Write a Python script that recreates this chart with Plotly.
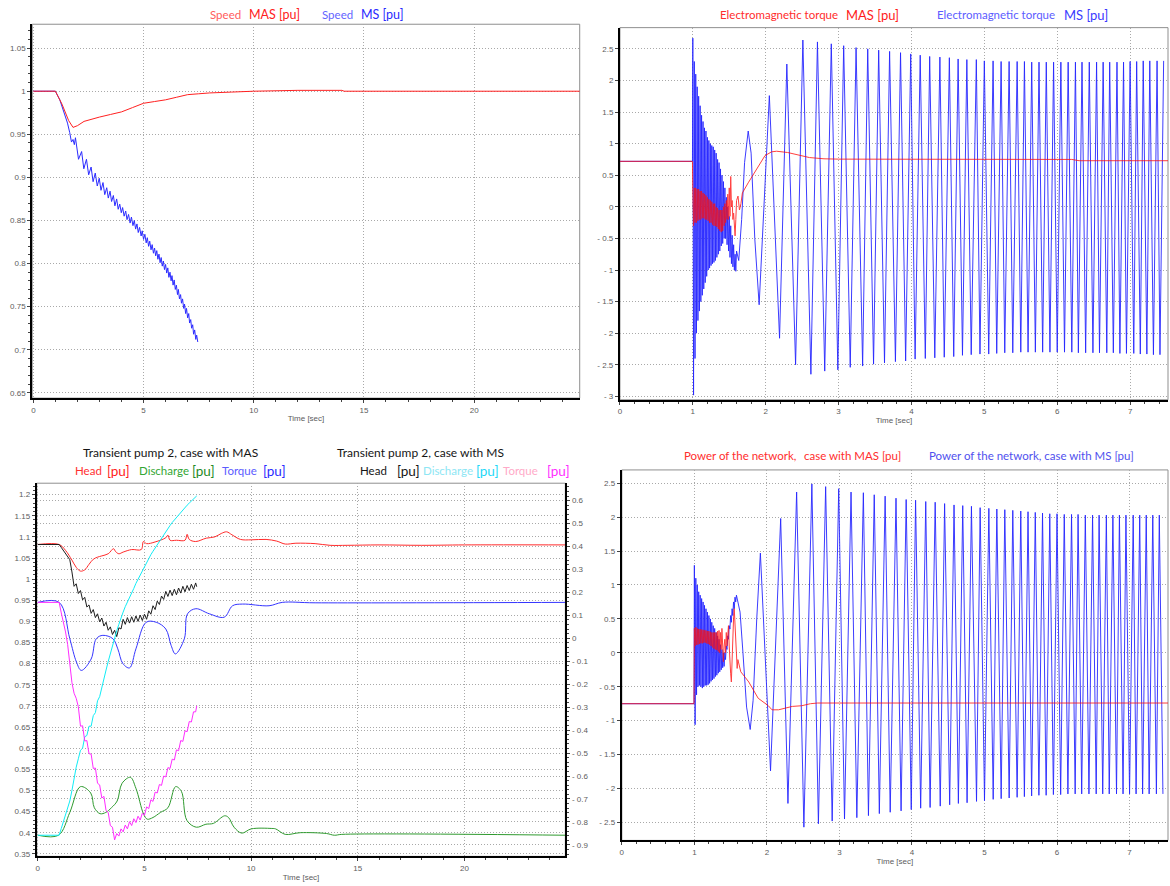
import plotly.graph_objects as go

# ------------------------------------------------------------------ DATA
# ---- top-left: speed [pu] vs time [s]
spd_mas_t = [0, 1.0, 1.3, 1.6, 1.8, 2.0, 2.3, 2.7, 3.0, 3.5, 4.0, 4.5, 5.0, 5.5, 6.0, 6.5, 7.0, 7.5, 8.0, 9.0, 10.0, 12.0, 14.0, 14.1, 24.8]
spd_mas_v = [1.0, 1.0, 0.985, 0.966, 0.958, 0.96, 0.965, 0.968, 0.970, 0.973, 0.976, 0.981, 0.986, 0.988, 0.990, 0.993, 0.996, 0.997, 0.998, 0.999, 1.0, 1.001, 1.001, 1.0, 1.0]
spd_ms_early_t = [0, 1.0, 1.2, 1.4, 1.55, 1.65, 1.73, 1.8, 1.86]
spd_ms_early_v = [1.0, 1.0, 0.99, 0.976, 0.963, 0.952, 0.941, 0.944, 0.938]

# common instants of the slip-frequency oscillation extremes (MS case)
osc_t = [1.91, 2.05, 2.19, 2.29, 2.41, 2.51, 2.62, 2.71, 2.81, 2.90,
         2.99, 3.07, 3.16, 3.24, 3.33, 3.40, 3.48, 3.55, 3.63, 3.70,
         3.78, 3.85, 3.92, 3.99, 4.05, 4.12, 4.19, 4.25, 4.32, 4.39,
         4.45, 4.52, 4.58, 4.64, 4.70, 4.76, 4.82, 4.89, 4.94, 5.00,
         5.06, 5.12, 5.17, 5.23, 5.28, 5.34, 5.39, 5.45, 5.50, 5.55,
         5.60, 5.65, 5.70, 5.75, 5.80, 5.85, 5.90, 5.95, 6.00, 6.05,
         6.10, 6.15, 6.20, 6.25, 6.29, 6.34, 6.39, 6.44, 6.49, 6.54,
         6.58, 6.63, 6.68, 6.72, 6.77, 6.82, 6.86, 6.91, 6.95, 7.00,
         7.05, 7.09, 7.14, 7.18, 7.23, 7.27, 7.32, 7.37, 7.41, 7.46]
spd_ms_osc_v = [0.946, 0.921, 0.930, 0.910, 0.921, 0.903, 0.912, 0.895, 0.905, 0.890,
                0.899, 0.885, 0.894, 0.880, 0.888, 0.876, 0.884, 0.872, 0.879, 0.867,
                0.875, 0.863, 0.869, 0.859, 0.865, 0.855, 0.861, 0.851, 0.857, 0.847,
                0.854, 0.844, 0.850, 0.840, 0.846, 0.836, 0.842, 0.832, 0.838, 0.828,
                0.834, 0.824, 0.830, 0.820, 0.826, 0.816, 0.822, 0.812, 0.818, 0.809,
                0.815, 0.805, 0.811, 0.801, 0.807, 0.797, 0.803, 0.793, 0.799, 0.789,
                0.795, 0.784, 0.790, 0.780, 0.786, 0.775, 0.781, 0.770, 0.775, 0.764,
                0.770, 0.759, 0.764, 0.754, 0.759, 0.748, 0.753, 0.742, 0.748, 0.737,
                0.742, 0.731, 0.735, 0.725, 0.729, 0.718, 0.723, 0.712, 0.717, 0.709]

# ---- short-circuit burst instants (s)
burst_t = [1.00, 1.01, 1.02, 1.03, 1.04, 1.05, 1.06, 1.07, 1.08, 1.09,
           1.10, 1.11, 1.12, 1.13, 1.14, 1.15, 1.16, 1.17, 1.18, 1.19,
           1.20, 1.21, 1.22, 1.23, 1.24, 1.25, 1.26, 1.27, 1.28, 1.29,
           1.30, 1.31, 1.32, 1.33, 1.34, 1.35, 1.36, 1.37, 1.38, 1.39,
           1.40, 1.41, 1.42, 1.43, 1.44, 1.45, 1.46, 1.47, 1.48, 1.49,
           1.50, 1.51, 1.52, 1.53, 1.54, 1.55, 1.56, 1.57, 1.58, 1.59, 1.60]
pre_t = [0.0, 0.995]

# ---- top-right: electromagnetic torque [pu]
tq_ms_pre_v = [0.72, 0.72]
tq_ms_burst_v = [2.67, -2.98, 2.30, -2.40, 2.10, -2.00, 1.90, -1.80, 1.75, -1.65,
                 1.60, -1.50, 1.45, -1.40, 1.35, -1.30, 1.25, -1.20, 1.20, -1.10,
                 1.10, -1.00, 1.05, -0.97, 1.00, -0.93, 0.97, -0.90, 0.95, -0.88,
                 0.90, -0.85, 0.85, -0.80, 0.75, -0.75, 0.70, -0.70, 0.60, -0.62,
                 0.50, -0.58, 0.40, -0.50, 0.30, -0.50, 0.15, -0.60, 0.00, -0.70,
                 -0.15, -0.80, -0.30, -0.90, -0.45, -0.95, -0.60, -1.00, -0.75, -1.02, -0.70]
tq_ms_mid_t = [1.63, 1.67, 1.71, 1.76, 1.80, 1.85]
tq_ms_mid_v = [-0.85, -0.20, 0.70, 1.20, 0.85, -0.50]
tq_ms_osc_v = [-1.55, 1.76, -2.08, 2.26, -2.50, 2.64, -2.65, 2.61, -2.60, 2.58,
               -2.58, 2.55, -2.54, 2.52, -2.52, 2.50, -2.49, 2.48, -2.47, 2.46,
               -2.45, 2.44, -2.44, 2.42, -2.41, 2.40, -2.40, 2.38, -2.39, 2.37,
               -2.38, 2.36, -2.37, 2.34, -2.35, 2.33, -2.34, 2.33, -2.33, 2.31,
               -2.33, 2.31, -2.32, 2.30, -2.31, 2.30, -2.31, 2.30, -2.30, 2.30,
               -2.30, 2.29, -2.30, 2.29, -2.30, 2.29, -2.30, 2.29, -2.30, 2.29,
               -2.30, 2.29, -2.30, 2.29, -2.31, 2.29, -2.31, 2.29, -2.31, 2.29,
               -2.31, 2.29, -2.31, 2.29, -2.31, 2.29, -2.32, 2.29, -2.32, 2.30,
               -2.32, 2.30, -2.33, 2.31, -2.33, 2.31, -2.34, 2.31, -2.34, 2.31]
tq_mas_pre_v = [0.72, 0.72]
tq_mas_burst_v = [0.25, -0.30, 0.30, -0.25, 0.30, -0.25, 0.28, -0.22, 0.28, -0.20,
                  0.25, -0.20, 0.25, -0.18, 0.22, -0.18, 0.20, -0.20, 0.18, -0.20,
                  0.15, -0.22, 0.12, -0.25, 0.10, -0.25, 0.08, -0.28, 0.05, -0.30,
                  0.05, -0.30, 0.00, -0.32, -0.02, -0.35, -0.05, -0.38, -0.05, -0.40,
                  -0.05, -0.38, 0.00, -0.30, 0.05, -0.25, 0.10, -0.20, 0.20, -0.20,
                  0.30, -0.15, 0.48, 0.00, 0.10, -0.20, -0.10, -0.40, -0.46, -0.20, 0.10]
tq_mas_tail_t = [1.62, 1.64, 1.66, 1.68, 1.76, 1.87, 1.99, 2.08, 2.15, 2.30, 2.50, 2.60, 2.80, 3.00, 6.20, 6.30, 7.52]
tq_mas_tail_v = [0.17, -0.05, 0.05, 0.22, 0.38, 0.59, 0.81, 0.87, 0.88, 0.86, 0.81, 0.78, 0.76, 0.755, 0.75, 0.73, 0.73]

# ---- bottom-right: network power [pu]
pw_ms_pre_v = [-0.75, -0.75]
pw_ms_burst_v = [1.29, -1.06, 1.10, -0.62, 1.00, -0.50, 0.90, -0.48, 0.85, -0.50,
                 0.80, -0.52, 0.75, -0.50, 0.70, -0.48, 0.65, -0.48, 0.60, -0.47,
                 0.55, -0.45, 0.50, -0.42, 0.45, -0.40, 0.40, -0.38, 0.36, -0.35,
                 0.30, -0.33, 0.25, -0.30, 0.20, -0.28, 0.12, -0.25, 0.05, -0.22,
                 0.00, -0.20, 0.00, -0.10, 0.10, 0.05, 0.25, 0.20, 0.40, 0.35,
                 0.55, 0.45, 0.65, 0.55, 0.75, 0.65, 0.82, 0.75, 0.85, 0.80, 0.80]
pw_ms_mid_t = [1.63, 1.67, 1.72, 1.77, 1.81, 1.86, 1.89]
pw_ms_mid_v = [0.60, 0.00, -0.80, -1.13, -0.70, 0.50, 1.20]
pw_ms_osc_v = [1.47, -1.74, 1.98, -2.22, 2.37, -2.57, 2.49, -2.52, 2.45, -2.48,
               2.42, -2.45, 2.37, -2.43, 2.36, -2.40, 2.33, -2.37, 2.31, -2.35,
               2.28, -2.33, 2.26, -2.31, 2.25, -2.29, 2.23, -2.28, 2.22, -2.26,
               2.20, -2.24, 2.18, -2.22, 2.17, -2.21, 2.16, -2.19, 2.14, -2.18,
               2.13, -2.16, 2.12, -2.15, 2.11, -2.14, 2.10, -2.13, 2.09, -2.12,
               2.08, -2.11, 2.07, -2.10, 2.06, -2.10, 2.05, -2.09, 2.05, -2.09,
               2.04, -2.08, 2.04, -2.08, 2.04, -2.08, 2.03, -2.08, 2.03, -2.08,
               2.03, -2.08, 2.03, -2.08, 2.03, -2.08, 2.03, -2.08, 2.03, -2.08,
               2.03, -2.08, 2.03, -2.08, 2.03, -2.08, 2.03, -2.08, 2.03, -2.08]
pw_mas_pre_v = [-0.75, -0.75]
pw_mas_burst_v = [0.36, 0.10, 0.38, 0.12, 0.36, 0.12, 0.35, 0.13, 0.35, 0.14,
                  0.34, 0.14, 0.34, 0.15, 0.33, 0.15, 0.33, 0.14, 0.32, 0.13,
                  0.32, 0.12, 0.31, 0.10, 0.30, 0.08, 0.30, 0.06, 0.30, 0.05,
                  0.30, 0.04, 0.32, 0.02, 0.33, 0.00, 0.30, 0.05, 0.36, -0.05,
                  -0.13, 0.10, 0.20, 0.00, 0.30, 0.10, 0.35, 0.40, 0.10, -0.20,
                  -0.30, -0.43, 0.00, 0.30, 0.50, 0.65, 0.40, 0.10, -0.10, -0.23, -0.10]
pw_mas_tail_t = [1.62, 1.64, 1.70, 1.75, 1.88, 2.02, 2.07, 2.16, 2.35, 2.48, 2.60, 2.70, 3.00, 7.53]
pw_mas_tail_v = [-0.20, -0.28, -0.36, -0.43, -0.67, -0.78, -0.84, -0.84, -0.79, -0.78, -0.75, -0.74, -0.74, -0.74]

# ---- bottom-left: transient of pump 2 (left-axis units)
head_mas_t = [0, 1.0, 1.3, 1.6, 1.8, 2.0, 2.2, 2.4, 2.6, 2.8, 3.0, 3.3, 3.55, 3.65, 3.8, 4.0, 4.4, 4.85, 4.95, 5.1,
              5.5, 6.0, 6.1, 6.2, 6.5, 6.9, 7.0, 7.1, 7.4, 7.9, 8.3, 8.6, 8.85, 9.1, 9.5, 10.0, 10.7, 11.2, 11.6, 12.1,
              13.0, 13.7, 14.5, 16.0, 18.0, 20.0, 24.8]
head_mas_v = [1.082, 1.082, 1.068, 1.045, 1.028, 1.019, 1.022, 1.035, 1.047, 1.052, 1.055, 1.060, 1.072, 1.065, 1.060,
              1.064, 1.070, 1.070, 1.089, 1.084, 1.088, 1.098, 1.104, 1.092, 1.092, 1.092, 1.106, 1.094, 1.089, 1.097,
              1.100, 1.108, 1.112, 1.105, 1.094, 1.093, 1.094, 1.090, 1.083, 1.085, 1.084, 1.080, 1.080, 1.081, 1.080,
              1.081, 1.081]
dis_mas_t = [0, 0.97, 1.5, 2.0, 2.48, 2.65, 2.92, 3.19, 3.45, 3.72, 3.95, 4.34, 4.6, 4.96, 5.13, 5.4, 5.75, 6.1, 6.46,
             6.73, 6.99, 7.43, 7.88, 8.23, 8.76, 8.94, 9.2, 9.56, 10.0, 10.97, 11.15, 11.6, 12.3, 13.54, 13.9, 14.25, 24.8]
dis_mas_v = [0.394, 0.394, 0.448, 0.509, 0.494, 0.459, 0.445, 0.448, 0.459, 0.475, 0.517, 0.531, 0.505, 0.444, 0.432,
             0.436, 0.448, 0.459, 0.509, 0.498, 0.429, 0.413, 0.420, 0.422, 0.440, 0.436, 0.413, 0.399, 0.409, 0.410,
             0.409, 0.396, 0.400, 0.398, 0.394, 0.396, 0.394]
tqp_mas_t = [0, 1.0, 1.5, 1.81, 2.04, 2.5, 2.74, 3.05, 3.52, 3.75, 3.99, 4.3, 4.6, 5.08, 5.55, 6.0, 6.25, 6.45, 6.87,
             7.02, 7.41, 8.04, 8.74, 9.13, 9.6, 10.84, 11.46, 13.0, 24.8]
tqp_mas_v = [0.945, 0.945, 0.859, 0.804, 0.784, 0.811, 0.859, 0.867, 0.859, 0.835, 0.800, 0.790, 0.835, 0.898, 0.898,
             0.882, 0.843, 0.823, 0.859, 0.918, 0.930, 0.918, 0.910, 0.937, 0.941, 0.937, 0.945, 0.944, 0.945]

ms_t = [0, 1.0, 1.1, 1.2, 1.3, 1.4, 1.5, 1.6, 1.7, 1.8, 1.9, 2.0, 2.1, 2.2, 2.3, 2.4, 2.5, 2.6, 2.7, 2.8, 2.9,
        3.0, 3.1, 3.2, 3.3, 3.4, 3.5, 3.6, 3.7, 3.8, 3.9, 4.0, 4.1, 4.2, 4.3, 4.4, 4.5, 4.6, 4.7, 4.8, 4.9,
        5.0, 5.1, 5.2, 5.3, 5.4, 5.5, 5.6, 5.7, 5.8, 5.9, 6.0, 6.1, 6.2, 6.3, 6.4, 6.5, 6.6, 6.7, 6.8, 6.9,
        7.0, 7.1, 7.2, 7.3, 7.4, 7.45]
head_ms_v = [1.082, 1.082, 1.075, 1.068, 1.060, 1.054, 1.046, 1.017, 0.983, 0.989, 0.966, 0.973, 0.951, 0.957, 0.934,
             0.939, 0.919, 0.928, 0.909, 0.918, 0.899, 0.908, 0.889, 0.898, 0.879, 0.887, 0.869, 0.879, 0.864, 0.885,
             0.882, 0.905, 0.893, 0.909, 0.896, 0.911, 0.898, 0.913, 0.900, 0.915, 0.902, 0.917, 0.905, 0.925, 0.917,
             0.937, 0.928, 0.948, 0.940, 0.960, 0.952, 0.971, 0.959, 0.974, 0.961, 0.976, 0.963, 0.979, 0.967, 0.983,
             0.970, 0.985, 0.973, 0.988, 0.976, 0.991, 0.982]
dis_ms_v = [0.394, 0.394, 0.410, 0.425, 0.440, 0.455, 0.475, 0.500, 0.530, 0.555, 0.575, 0.595, 0.600, 0.627, 0.630,
            0.652, 0.652, 0.677, 0.684, 0.712, 0.722, 0.745, 0.765, 0.785, 0.805, 0.825, 0.845, 0.862, 0.878, 0.893,
            0.910, 0.922, 0.935, 0.945, 0.955, 0.967, 0.978, 0.990, 1.000, 1.010, 1.020, 1.030, 1.040, 1.050, 1.058,
            1.066, 1.074, 1.082, 1.090, 1.098, 1.106, 1.113, 1.120, 1.127, 1.134, 1.140, 1.147, 1.153, 1.159, 1.165,
            1.170, 1.175, 1.180, 1.185, 1.190, 1.194, 1.197]
tqp_ms_v = [0.945, 0.945, 0.920, 0.900, 0.875, 0.845, 0.805, 0.755, 0.730, 0.718, 0.698, 0.652, 0.653, 0.617, 0.618,
            0.587, 0.586, 0.552, 0.553, 0.517, 0.513, 0.482, 0.486, 0.452, 0.448, 0.417, 0.413, 0.383, 0.398, 0.392,
            0.409, 0.402, 0.418, 0.409, 0.426, 0.417, 0.433, 0.424, 0.439, 0.430, 0.446, 0.441, 0.461, 0.457, 0.478,
            0.474, 0.496, 0.494, 0.514, 0.512, 0.534, 0.532, 0.554, 0.552, 0.574, 0.572, 0.596, 0.594, 0.618, 0.616,
            0.641, 0.639, 0.663, 0.662, 0.686, 0.686, 0.700]

# ---- tick labels
tl_y_vals = [1.05, 1.0, 0.95, 0.9, 0.85, 0.8, 0.75, 0.7, 0.65]
tl_y_text = ["1.05", "1", "0.95", "0.9", "0.85", "0.8", "0.75", "0.7", "0.65"]
long_x_vals = [0, 5, 10, 15, 20]
long_x_text = ["0", "5", "10", "15", "20"]
short_x_vals = [0, 1, 2, 3, 4, 5, 6, 7]
short_x_text = ["0", "1", "2", "3", "4", "5", "6", "7"]
tr_y_vals = [2.5, 2, 1.5, 1, 0.5, 0, -0.5, -1, -1.5, -2, -2.5, -3]
tr_y_text = ["2.5", "2", "1.5", "1", "0.5", "0", "- 0.5", "- 1", "- 1.5", "- 2", "- 2.5", "- 3"]
br_y_vals = [2.5, 2, 1.5, 1, 0.5, 0, -0.5, -1, -1.5, -2, -2.5]
br_y_text = ["2.5", "2", "1.5", "1", "0.5", "0", "- 0.5", "- 1", "- 1.5", "- 2", "- 2.5"]
bl_y_vals = [1.2, 1.15, 1.1, 1.05, 1.0, 0.95, 0.9, 0.85, 0.8, 0.75, 0.7, 0.65, 0.6, 0.55, 0.5, 0.45, 0.4, 0.35]
bl_y_text = ["1.2", "1.15", "1.1", "1.05", "1", "0.95", "0.9", "0.85", "0.8", "0.75", "0.7", "0.65", "0.6",
             "0.55", "0.5", "0.45", "0.4", "0.35"]
bl_y2_vals = [0.6, 0.5, 0.4, 0.3, 0.2, 0.1, 0, -0.1, -0.2, -0.3, -0.4, -0.5, -0.6, -0.7, -0.8, -0.9]
bl_y2_text = ["0.6", "0.5", "0.4", "0.3", "0.2", "0.1", "0", "- 0.1", "- 0.2", "- 0.3", "- 0.4", "- 0.5",
              "- 0.6", "- 0.7", "- 0.8", "- 0.9"]

# ------------------------------------------------------------------ LAYOUT HELPERS
W, H = 1170, 886


def xd(a, b):
    return [a / W, b / W]


def yd(top, bottom):
    return [1 - bottom / H, 1 - top / H]


TICKFONT = dict(family="Liberation Sans, Arial, sans-serif", size=8, color="#5c5c5c")
TITLEFONT = "Lato, 'Open Sans', sans-serif"
GRIDSTYLE = dict(showgrid=True, gridcolor="#a9a9a9", griddash="1px,2px", gridwidth=1)


def x_axis(domain, rng, tv, tt, mdt, anchor):
    return dict(domain=domain, range=rng, anchor=anchor, tickmode="array", tickvals=tv, ticktext=tt,
                ticks="outside", ticklen=3, tickcolor="#444", tickfont=TICKFONT,
                showline=True, linecolor="#000", linewidth=2, zeroline=False, **GRIDSTYLE,
                minor=dict(tickmode="linear", tick0=0, dtick=mdt, ticks="outside", ticklen=2,
                           tickcolor="#444", showgrid=False),
                title=dict(text="Time [sec]", font=TICKFONT, standoff=2))


def y_axis(domain, rng, tv, tt, anchor, mdt=None, side="left", overlaying=None):
    d = dict(domain=domain, range=rng, anchor=anchor, side=side, tickmode="array", tickvals=tv, ticktext=tt,
             ticks="outside", ticklen=3, tickcolor="#444", tickfont=TICKFONT,
             showline=True, linecolor="#000", linewidth=2, zeroline=False, **GRIDSTYLE)
    if mdt:
        d["minor"] = dict(tickmode="linear", tick0=0, dtick=mdt, ticks="outside", ticklen=2,
                          tickcolor="#444", showgrid=False)
    if overlaying:
        d["overlaying"] = overlaying
    return d


fig = go.Figure()


def line(x, y, color, xa, ya, width=1.0, shape="linear", opacity=1.0):
    fig.add_trace(go.Scatter(x=x, y=y, mode="lines", xaxis=xa, yaxis=ya, hoverinfo="skip", opacity=opacity,
                             line=dict(color=color, width=width, shape=shape), showlegend=False))


# top-left
line(spd_ms_early_t + osc_t, spd_ms_early_v + spd_ms_osc_v, "#2b2bff", "x", "y")
line(spd_mas_t, spd_mas_v, "#ff2020", "x", "y")
# top-right
line(pre_t + burst_t + tq_ms_mid_t + osc_t, tq_ms_pre_v + tq_ms_burst_v + tq_ms_mid_v + tq_ms_osc_v,
     "#2626ff", "x2", "y2", 0.9)
line(pre_t + burst_t + tq_mas_tail_t, tq_mas_pre_v + tq_mas_burst_v + tq_mas_tail_v, "#ff1010", "x2", "y2",
     opacity=0.8)
# bottom-left
line(head_mas_t, head_mas_v, "#ff2a2a", "x3", "y3", shape="spline")
line(dis_mas_t, dis_mas_v, "#2f9a2f", "x3", "y3", shape="spline")
line(tqp_mas_t, tqp_mas_v, "#3535ff", "x3", "y3", shape="spline")
line(ms_t, head_ms_v, "#1e1e1e", "x3", "y3")
line(ms_t, dis_ms_v, "#10ecf5", "x3", "y3")
line(ms_t, tqp_ms_v, "#ff2cff", "x3", "y3")
fig.add_trace(go.Scatter(x=[None], y=[None], xaxis="x3", yaxis="y5", mode="lines", showlegend=False,
                         hoverinfo="skip"))
# bottom-right
line(pre_t + burst_t + pw_ms_mid_t + osc_t, pw_ms_pre_v + pw_ms_burst_v + pw_ms_mid_v + pw_ms_osc_v,
     "#2626ff", "x4", "y4", 0.9)
line(pre_t + burst_t + pw_mas_tail_t, pw_mas_pre_v + pw_mas_burst_v + pw_mas_tail_v, "#ff1010", "x4", "y4",
     opacity=0.8)

TL_X, TL_Y = xd(30.3, 578.7), yd(24.3, 399.0)
TR_X, TR_Y = xd(619.0, 1168.0), yd(27.7, 400.7)
BL_X, BL_Y = xd(34.8, 564.3), yd(484.3, 858.3)
BR_X, BR_Y = xd(620.9, 1168.0), yd(471.0, 842.3)

fig.update_layout(
    width=W, height=H, margin=dict(l=0, r=0, t=0, b=0), paper_bgcolor="white", plot_bgcolor="white",
    hovermode=False, showlegend=False,
    xaxis=x_axis(TL_X, [-0.05, 24.79], long_x_vals, long_x_text, 1, "y"),
    yaxis=y_axis(TL_Y, [0.6439, 1.0777], tl_y_vals, tl_y_text, "x", mdt=0.01),
    xaxis2=x_axis(TR_X, [0, 7.52], short_x_vals, short_x_text, 0.2, "y2"),
    yaxis2=y_axis(TR_Y, [-3.054, 2.836], tr_y_vals, tr_y_text, "x2"),
    xaxis3=x_axis(BL_X, [-0.05, 24.73], long_x_vals, long_x_text, 1, "y3"),
    yaxis3=y_axis(BL_Y, [0.344, 1.227], bl_y_vals, bl_y_text, "x3", mdt=0.01),
    yaxis5=y_axis(BL_Y, [-0.950, 0.676], bl_y2_vals, bl_y2_text, "x3", mdt=0.02, side="right",
                  overlaying="y3"),
    xaxis4=x_axis(BR_X, [0, 7.53], short_x_vals, short_x_text, 0.2, "y4"),
    yaxis4=y_axis(BR_Y, [-2.765, 2.696], br_y_vals, br_y_text, "x4"),
)

# grey frame (top / right borders)
for xr, yr in [("x", "y"), ("x2", "y2"), ("x3", "y3"), ("x4", "y4")]:
    fig.add_shape(type="rect", xref=f"{xr} domain", yref=f"{yr} domain", x0=0, x1=1, y0=0, y1=1,
                  line=dict(color="#8f8f8f", width=1), layer="below")


def label(px, py, text, color, size):
    fig.add_annotation(x=px / W, y=1 - py / H, xref="paper", yref="paper", xanchor="left", yanchor="middle",
                       text=text, showarrow=False, font=dict(family=TITLEFONT, size=size, color=color))


# top-left titles
label(206.1, 14.3, "Speed", "#ff5c5c", 11.5)
label(245.8, 14.3, "MAS [pu]", "#ff2020", 12.5)
label(318.8, 14.3, "Speed", "#6464ff", 11.5)
label(357.4, 14.3, "MS [pu]", "#2a2aff", 12.5)
# top-right titles
label(717.5, 15.0, "Electromagnetic torque", "#ff2d2d", 11.5)
label(843.9, 15.0, "MAS [pu]", "#ff1a1a", 13)
label(935.0, 15.0, "Electromagnetic torque", "#5c5cff", 11.5)
label(1061.4, 15.0, "MS [pu]", "#3a3aff", 13)
# bottom-left titles
label(78.7, 453.3, "Transient pump 2, case with MAS", "#151515", 12)
label(334.0, 453.3, "Transient pump 2, case with MS", "#151515", 12)
label(71.1, 472.0, "Head", "#ff3030", 11.5)
label(102.9, 472.0, "[pu]", "#ff1a1a", 13.5)
label(135.4, 472.0, "Discharge", "#33a633", 11.5)
label(188.0, 472.0, "[pu]", "#1f8a1f", 13.5)
label(218.2, 472.0, "Torque", "#5c5cff", 11.5)
label(259.1, 472.0, "[pu]", "#2a2aff", 13.5)
label(356.3, 472.0, "Head", "#151515", 11.5)
label(393.3, 472.0, "[pu]", "#151515", 13.5)
label(419.8, 472.0, "Discharge", "#8ee6f4", 11.5)
label(472.8, 472.0, "[pu]", "#1fd8f8", 13.5)
label(500.0, 472.0, "Torque", "#ffaac8", 11.5)
label(543.5, 472.0, "[pu]", "#ff2cff", 13.5)
# bottom-right titles
label(681.0, 456.7, "Power of the network,", "#ff2d2d", 11.5)
label(801.2, 456.7, "case with MAS [pu]", "#ff2d2d", 11.5)
label(926.4, 456.7, "Power of the network, case with MS [pu]", "#5050ee", 11.5)

fig.write_html("out.html")
